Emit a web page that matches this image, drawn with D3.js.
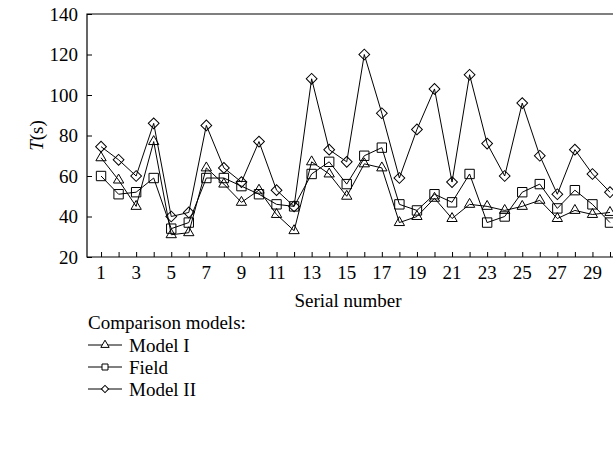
<!DOCTYPE html>
<html>
<head>
<meta charset="utf-8">
<script src="https://cdn.jsdelivr.net/npm/d3@7"></script>
<style>
  body { margin: 0; background: #fff; }
  svg text { font-family: "Liberation Serif", "DejaVu Serif", serif; fill: #000; font-size: 19px; }
</style>
</head>
<body>
<div class="line-chart"></div>
<script>
const serial = d3.range(1, 31);
const modelI = [69, 58, 45, 77, 31, 32, 64, 56, 47, 53, 41, 33, 67, 61, 50, 66, 64, 37, 40, 49, 39, 46, 45, 43, 45, 48, 39, 43, 41, 42];
const field = [60, 51, 52, 59, 34, 37, 59, 59, 55, 51, 46, 45, 61, 67, 56, 70, 74, 46, 43, 51, 47, 61, 37, 40, 52, 56, 44, 53, 46, 37];
const modelII = [74.5, 68, 60, 86, 40, 42, 85, 64, 57, 77, 53, 45, 108, 73, 67, 120, 91, 59, 83, 103, 57, 110, 76, 60, 96, 70, 51, 73, 61, 52];
const yTicks = [20, 40, 60, 80, 100, 120, 140];
const xLabels = [1, 3, 5, 7, 9, 11, 13, 15, 17, 19, 21, 23, 25, 27, 29];
const seriesNames = ['Model I', 'Field', 'Model II'];

const width = 613;
const height = 470;

const svg = d3.select('.line-chart')
  .append('svg')
  .attr('width', width)
  .attr('height', height);

const plotLeft = 87, plotTop = 14, plotBottom = 257;
const x = d3.scaleLinear().domain([0.2, 31]).range([plotLeft, plotLeft + 30.8 * 17.55]);
const y = d3.scaleLinear().domain([20, 140]).range([plotBottom, plotTop]);

// frame (right side runs off the picture)
svg.append('path')
  .attr('d', `M${x(31)},${plotTop}H${plotLeft}V${plotBottom}H${x(31)}`)
  .attr('fill', 'none')
  .attr('stroke', '#000')
  .attr('stroke-width', 1.2);

// y axis, ticks pointing in
const yAxis = svg.append('g')
  .attr('transform', `translate(${plotLeft},0)`)
  .call(d3.axisRight(y).tickValues(yTicks).tickSize(5).tickFormat(''));
yAxis.select('.domain').remove();
svg.selectAll('.ylab')
  .data(yTicks)
  .enter()
  .append('text')
  .attr('x', plotLeft - 9)
  .attr('y', d => y(d))
  .attr('dy', '.35em')
  .attr('text-anchor', 'end')
  .text(d => d);

// x axis, ticks pointing up
const xAxis = svg.append('g')
  .attr('transform', `translate(0,${plotBottom})`)
  .call(d3.axisTop(x).tickValues(serial).tickSize(5).tickFormat(''));
xAxis.select('.domain').remove();
svg.selectAll('.xlab')
  .data(xLabels)
  .enter()
  .append('text')
  .attr('x', d => x(d))
  .attr('y', plotBottom + 22)
  .attr('text-anchor', 'middle')
  .text(d => d);

svg.append('text')
  .attr('x', 348)
  .attr('y', 307)
  .attr('text-anchor', 'middle')
  .text('Serial number');

svg.append('text')
  .attr('transform', `translate(43,${(plotTop + plotBottom) / 2}) rotate(-90)`)
  .attr('text-anchor', 'middle')
  .html('<tspan font-style="italic">T</tspan>(s)');

const symbols = [
  d3.symbol().type(d3.symbolTriangle).size(46),
  d3.symbol().type(d3.symbolSquare).size(88),
  d3.symbol().type(d3.symbolSquare).size(58)
];
const allSeries = [modelI, field, modelII];

const line = d3.line()
  .x((d, i) => x(serial[i]))
  .y(d => y(d));

allSeries.forEach(vals => {
  svg.append('path')
    .attr('d', line(vals))
    .attr('fill', 'none')
    .attr('stroke', '#000')
    .attr('stroke-width', 1);
});
allSeries.forEach((vals, k) => {
  svg.append('g')
    .selectAll('path')
    .data(vals)
    .enter()
    .append('path')
    .attr('d', symbols[k])
    .attr('transform', (d, i) => `translate(${x(serial[i])},${y(d)})` + (k === 2 ? ' rotate(45)' : ''))
    .attr('fill', 'none')
    .attr('stroke', '#000')
    .attr('stroke-width', 1);
});

// legend
const lg = svg.append('g').attr('transform', 'translate(88,0)');
lg.append('text')
  .attr('x', 0)
  .attr('y', 329)
  .text('Comparison models:');
const legendSymbols = [
  d3.symbol().type(d3.symbolTriangle).size(30),
  d3.symbol().type(d3.symbolSquare).size(36),
  d3.symbol().type(d3.symbolSquare).size(26)
];
seriesNames.forEach((name, k) => {
  const ly = 345 + k * 22;
  lg.append('line')
    .attr('x1', 0).attr('x2', 34)
    .attr('y1', ly).attr('y2', ly)
    .attr('stroke', '#000');
  lg.append('path')
    .attr('d', legendSymbols[k])
    .attr('transform', `translate(17,${ly})` + (k === 2 ? ' rotate(45)' : ''))
    .attr('fill', '#fff')
    .attr('stroke', '#000');
  lg.append('text')
    .attr('x', 41)
    .attr('y', ly)
    .attr('dy', '.35em')
    .text(name);
});
</script>
</body>
</html>
